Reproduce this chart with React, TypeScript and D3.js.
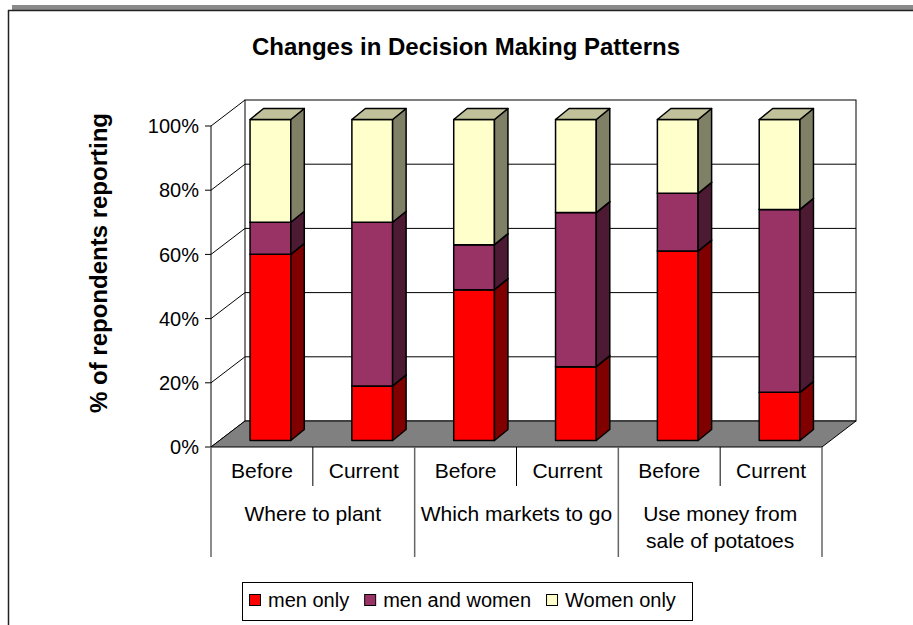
import React, { useRef, useEffect } from 'react' ;
import * as d3 from 'd3' ;

// chart values
const categories = ['Before', 'Current', 'Before', 'Current', 'Before', 'Current'] ;
const groups = [['Where to plant'], ['Which markets to go'], ['Use money from', 'sale of potatoes']] ;
const seriesNames = ['men only', 'men and women', 'Women only'] ;
const menOnly = [58, 17, 47, 23, 59, 15] ;
const menAndWomen = [10, 51, 14, 48, 18, 57] ;
const womenOnly = [32, 32, 39, 29, 23, 28] ;
const yTicks = [0, 20, 40, 60, 80, 100] ;

const frontColors = ['#FF0000', '#993366', '#FFFFCC'] ;
const sideColors = ['#800000', '#4D1A33', '#808066'] ;
const topColors = ['#BF0000', '#732650', '#C0C09A'] ;

const FONT = "'Liberation Sans', Arial, sans-serif" ;

const App = () => {

    const ref = useRef<SVGSVGElement>(null) ;

    useEffect( () => {

        const svg = d3.select(ref.current) ;
        svg.selectAll('*').remove() ;

        const plot = { left : 211, right : 822, top : 126, bottom : 447 } ;
        const depth = { dx : 34, dy : -26 } ;

        const x = d3.scaleBand<number>().domain(d3.range(categories.length)).range([plot.left, plot.right]) ;
        const y = d3.scaleLinear().domain([0, 100]).range([plot.bottom, plot.top]) ;

        // frame
        svg.append('rect').attr('x', 12).attr('y', 5).attr('width', 901).attr('height', 5).attr('fill', '#8a8a8a') ;
        svg.append('line').attr('x1', 8).attr('x2', 913).attr('y1', 10.5).attr('y2', 10.5).attr('stroke', '#222').attr('stroke-width', 1.5) ;
        svg.append('line').attr('x1', 8.5).attr('x2', 8.5).attr('y1', 10).attr('y2', 625).attr('stroke', '#222').attr('stroke-width', 1.5) ;

        // title
        svg.append('text')
            .attr('x', 466).attr('y', 55)
            .attr('text-anchor', 'middle')
            .style('font-family', FONT).style('font-size', '24px').style('font-weight', 'bold')
            .text('Changes in Decision Making Patterns') ;

        // y label
        svg.append('text')
            .attr('transform', 'translate(107, 263) rotate(-90)')
            .attr('text-anchor', 'middle')
            .style('font-family', FONT).style('font-size', '24px').style('font-weight', 'bold')
            .text('% of repondents reporting') ;

        // back wall
        svg.append('rect')
            .attr('x', plot.left + depth.dx).attr('y', y(100) + depth.dy)
            .attr('width', plot.right - plot.left).attr('height', y(0) - y(100))
            .attr('fill', 'white').attr('stroke', 'black').attr('stroke-width', 1) ;

        // grid on back wall and left wall
        yTicks.forEach( t => {
            if (t > 0 && t < 100)
                svg.append('line')
                    .attr('x1', plot.left + depth.dx).attr('x2', plot.right + depth.dx)
                    .attr('y1', y(t) + depth.dy).attr('y2', y(t) + depth.dy)
                    .attr('stroke', 'black').attr('stroke-width', 1) ;
            svg.append('line')
                .attr('x1', plot.left).attr('x2', plot.left + depth.dx)
                .attr('y1', y(t)).attr('y2', y(t) + depth.dy)
                .attr('stroke', 'black').attr('stroke-width', 1) ;
            svg.append('line')
                .attr('x1', plot.left - 6).attr('x2', plot.left)
                .attr('y1', y(t)).attr('y2', y(t))
                .attr('stroke', 'black').attr('stroke-width', 1) ;
            svg.append('text')
                .attr('x', 199).attr('y', y(t)).attr('dy', '0.36em')
                .attr('text-anchor', 'end')
                .style('font-family', FONT).style('font-size', '20px')
                .text(t + '%') ;
        })

        // floor
        const floor = [
            [plot.left, y(0)], [plot.right, y(0)],
            [plot.right + depth.dx, y(0) + depth.dy], [plot.left + depth.dx, y(0) + depth.dy]
        ] ;
        svg.append('polygon')
            .attr('points', floor.map(p => p.join(',')).join(' '))
            .attr('fill', '#808080').attr('stroke', 'black').attr('stroke-width', 1) ;

        // front axis
        svg.append('line')
            .attr('x1', plot.left).attr('x2', plot.left)
            .attr('y1', y(0)).attr('y2', y(100))
            .attr('stroke', 'black').attr('stroke-width', 1) ;

        // stacked 3d bars
        const table = categories.map( (c, i) => ({
            'men only' : menOnly[i], 'men and women' : menAndWomen[i], 'Women only' : womenOnly[i]
        })) ;
        const stacked = d3.stack<any>().keys(seriesNames)(table) ;

        const barW = x.bandwidth() * 0.4 ;
        const ox = depth.dx * 0.25, oy = depth.dy * 0.25 ;
        const bdx = 13.5, bdy = -11 ;

        const bars = svg.append('g').attr('stroke', 'black').attr('stroke-width', 1.5).attr('stroke-linejoin', 'round') ;

        categories.forEach( (c, i) => {
            stacked.forEach( (s, k) => {
                const d = s[i] ;
                const x0 = (x(i) as number) + (x.bandwidth() - barW) / 2 + ox ;
                const x1 = x0 + barW ;
                const yb = y(d[0]) + oy ;
                const yt = y(d[1]) + oy ;
                if (yb - yt <= 0) return ;
                bars.append('rect')
                    .attr('x', x0).attr('y', yt).attr('width', barW).attr('height', yb - yt)
                    .attr('fill', frontColors[k]) ;
                bars.append('polygon')
                    .attr('points', [[x1, yt], [x1 + bdx, yt + bdy], [x1 + bdx, yb + bdy], [x1, yb]].map(p => p.join(',')).join(' '))
                    .attr('fill', sideColors[k]) ;
                bars.append('polygon')
                    .attr('points', [[x0, yt], [x0 + bdx, yt + bdy], [x1 + bdx, yt + bdy], [x1, yt]].map(p => p.join(',')).join(' '))
                    .attr('fill', topColors[k]) ;
            })
        })

        // category table under the floor
        const tableTop = y(0) ;
        categories.forEach( (c, i) => {
            const xl = x(i) as number ;
            const isGroupEdge = i % 2 === 0 ;
            svg.append('line')
                .attr('x1', xl).attr('x2', xl)
                .attr('y1', tableTop).attr('y2', isGroupEdge ? 557 : 486)
                .attr('stroke', isGroupEdge ? '#666' : 'black').attr('stroke-width', isGroupEdge ? 1.5 : 1) ;
            svg.append('text')
                .attr('x', xl + x.bandwidth() / 2).attr('y', 478)
                .attr('text-anchor', 'middle')
                .style('font-family', FONT).style('font-size', '21px')
                .text(c) ;
        })
        svg.append('line')
            .attr('x1', plot.right).attr('x2', plot.right)
            .attr('y1', tableTop).attr('y2', 557)
            .attr('stroke', '#666').attr('stroke-width', 1.5) ;

        groups.forEach( (g, gi) => {
            const cx = (x(gi * 2) as number) + x.bandwidth() ;
            g.forEach( (line, li) => {
                svg.append('text')
                    .attr('x', cx).attr('y', 521 + li * 27)
                    .attr('text-anchor', 'middle')
                    .style('font-family', FONT).style('font-size', '21px')
                    .text(line) ;
            })
        })

        // legend
        svg.append('rect')
            .attr('x', 242.5).attr('y', 582.5).attr('width', 450).attr('height', 38)
            .attr('fill', 'white').attr('stroke', 'black').attr('stroke-width', 1) ;
        let lx = 249 ;
        seriesNames.forEach( (name, k) => {
            svg.append('rect')
                .attr('x', lx + 0.5).attr('y', 594.5).attr('width', 11).attr('height', 11)
                .attr('fill', frontColors[k]).attr('stroke', 'black').attr('stroke-width', 1) ;
            const t = svg.append('text')
                .attr('x', lx + 19).attr('y', 607)
                .style('font-family', FONT).style('font-size', '20px')
                .text(name) ;
            const w = (t.node() as SVGTextElement).getComputedTextLength() ;
            lx = lx + 19 + w + 15 ;
        })

    }, [])

    return (
        <svg ref={ref} width={913} height={625}
            style={{ position : 'absolute', left : 0, top : 0, background : 'white' }} />
    )
}

export default App ;
